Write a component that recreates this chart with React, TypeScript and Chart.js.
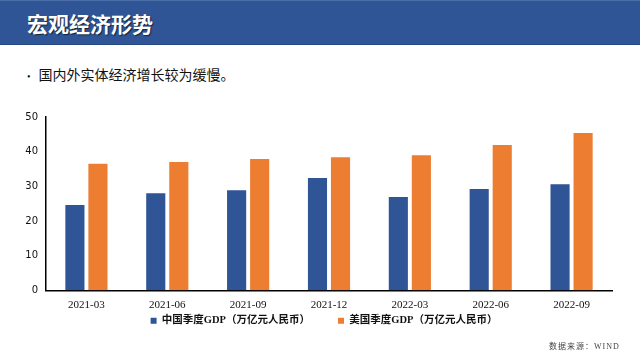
import React, { useEffect, useRef } from "react";
import { Chart, registerables } from "chart.js";

Chart.register(...registerables);

const categories = ["2021-03", "2021-06", "2021-09", "2021-12", "2022-03", "2022-06", "2022-09"];
const chinaGDP = [24.6, 28.0, 28.9, 32.4, 26.9, 29.2, 30.6];
const usGDP = [36.5, 37.0, 37.9, 38.4, 39.0, 41.9, 45.4];
const seriesNames = ["中国季度GDP（万亿元人民币）", "美国季度GDP（万亿元人民币）"];
const titleText = "宏观经济形势";
const bulletText = "国内外实体经济增长较为缓慢。";
const sourceText = "数据来源：WIND";

const BLUE = "#2F5597";
const ORANGE = "#ED7D31";
const SERIF = "'Liberation Serif', 'DejaVu Serif', 'Noto Sans CJK SC', serif";
const SANS = "'DejaVu Sans', 'Liberation Sans', sans-serif";

const legendShift = {
  id: "legendShift",
  afterLayout(chart: any) {
    const lg = chart.legend;
    if (!lg) return;
    const dy = -32;
    const dx = 18;
    lg.top += dy;
    lg.bottom += dy;
    lg.left += dx;
    lg.right += dx;
  },
};

export default function App() {
  const ref = useRef<HTMLCanvasElement>(null);
  useEffect(() => {
    if (!ref.current) return;
    const chart = new Chart(ref.current, {
      type: "bar",
      data: {
        labels: categories,
        datasets: [
          { label: seriesNames[0], data: chinaGDP, backgroundColor: BLUE, categoryPercentage: 0.57, barPercentage: 0.83 },
          { label: seriesNames[1], data: usGDP, backgroundColor: ORANGE, categoryPercentage: 0.57, barPercentage: 0.83 },
        ],
      },
      plugins: [legendShift],
      options: {
        animation: false,
        responsive: false,
        maintainAspectRatio: false,
        layout: { padding: { left: 0, right: 28, top: 17, bottom: 0 } },
        plugins: {
          tooltip: { enabled: false },
          legend: {
            position: "bottom",
            labels: {
              boxWidth: 6,
              boxHeight: 6,
              padding: 28,
              color: "#111",
              font: { family: SERIF, size: 10.5, weight: "bold" },
            },
          },
        },
        scales: {
          x: {
            grid: { display: false, drawTicks: false },
            border: { display: true, color: "#000", width: 1.5 },
            ticks: { color: "#111", font: { family: SERIF, size: 11 }, padding: 8, maxRotation: 0 },
          },
          y: {
            min: 0,
            max: 50,
            afterFit: (s: any) => { s.width = 46; },
            grid: { display: false, drawTicks: false },
            border: { display: true, color: "#000", width: 1.5 },
            ticks: { stepSize: 10, color: "#111", font: { family: SANS, size: 10 }, padding: 8 },
          },
        },
      },
    });
    return () => chart.destroy();
  }, []);

  return (
    <div style={{ position: "fixed", left: 0, top: 0, width: 640, height: 360, background: "#fff", overflow: "hidden" }}>
      <div
        style={{
          position: "absolute", left: 0, top: 0, width: 640, height: 45, background: BLUE,
          borderTop: "1px solid #4A6FA8", borderBottom: "1px solid #27487F", boxSizing: "border-box",
        }}
      >
        <div
          style={{
            position: "absolute", left: 27, top: 8, color: "#fff", fontSize: 21, fontWeight: "bold",
            fontFamily: "'Noto Sans CJK SC', sans-serif", lineHeight: "28px",
            textShadow: "1px 1px 1px rgba(0,0,0,0.6)",
          }}
        >
          {titleText}
        </div>
      </div>
      <div style={{ position: "absolute", left: 27, top: 66, fontSize: 14, fontFamily: SERIF, color: "#111", lineHeight: "20px" }}>
        <span style={{ fontSize: 10, marginRight: 8 }}>•</span>
        {bulletText}
      </div>
      <canvas ref={ref} width={640} height={268} style={{ position: "absolute", left: 0, top: 100, width: 640, height: 268 }} />
      <div style={{ position: "absolute", left: 549, top: 340, fontSize: 8, fontFamily: SERIF, color: "#444", letterSpacing: 1 }}>
        {sourceText}
      </div>
    </div>
  );
}
